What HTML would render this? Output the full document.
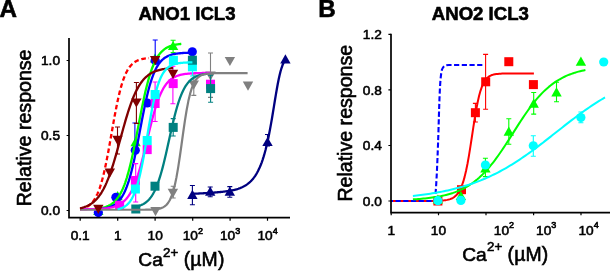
<!DOCTYPE html>
<html><head><meta charset="utf-8"><style>
html,body{margin:0;padding:0;background:#fff;}
body{width:610px;height:271px;overflow:hidden;font-family:"Liberation Sans",sans-serif;}
svg{display:block;will-change:transform;}
</style></head><body>
<svg width="610" height="271" viewBox="0 0 610 271">
<rect width="610" height="271" fill="#fff"/>
<path d="M80.00,209.30 L80.70,209.15 L81.39,208.99 L82.09,208.80 L82.79,208.60 L83.48,208.37 L84.18,208.12 L84.88,207.84 L85.58,207.54 L86.27,207.20 L86.97,206.82 L87.67,206.41 L88.36,205.96 L89.06,205.46 L89.76,204.90 L90.45,204.29 L91.15,203.63 L91.85,202.89 L92.55,202.08 L93.24,201.20 L93.94,200.22 L94.64,199.16 L95.33,198.00 L96.03,196.74 L96.73,195.36 L97.42,193.86 L98.12,192.24 L98.82,190.48 L99.52,188.58 L100.21,186.54 L100.91,184.34 L101.61,181.99 L102.30,179.49 L103.00,176.82 L103.70,173.99 L104.39,171.01 L105.09,167.87 L105.79,164.59 L106.48,161.16 L107.18,157.61 L107.88,153.95 L108.58,150.18 L109.27,146.33 L109.97,142.41 L110.67,138.45 L111.36,134.47 L112.06,130.49 L112.76,126.52 L113.45,122.60 L114.15,118.73 L114.85,114.95 L115.55,111.26 L116.24,107.69 L116.94,104.24 L117.64,100.93 L118.33,97.76 L119.03,94.75 L119.73,91.89 L120.42,89.20 L121.12,86.66 L121.82,84.28 L122.52,82.06 L123.21,79.98 L123.91,78.06 L124.61,76.28 L125.30,74.63 L126.00,73.11 L126.70,71.71 L127.39,70.42 L128.09,69.24 L128.79,68.16 L129.48,67.17 L130.18,66.27 L130.88,65.45 L131.58,64.70 L132.27,64.02 L132.97,63.40 L133.67,62.84 L134.36,62.33 L135.06,61.86 L135.76,61.44 L136.45,61.06 L137.15,60.72 L137.85,60.41 L138.55,60.12 L139.24,59.87 L139.94,59.64 L140.64,59.43 L141.33,59.24 L142.03,59.07 L142.73,58.92 L143.42,58.78 L144.12,58.65 L144.82,58.54 L145.52,58.44 L146.21,58.35 L146.91,58.26 L147.61,58.19 L148.30,58.12 L149.00,58.06" stroke="#ff0000" stroke-width="2.3" fill="none" stroke-linejoin="round" stroke-dasharray="4.6,2.8"/>
<path d="M173.10,40.30 V52.60 M170.60,40.30 H175.60 M170.60,52.60 H175.60" stroke="#00ff00" stroke-width="1.1" fill="none"/>
<polygon points="93.10,215.10 103.50,215.10 98.30,205.90" fill="#00ff00"/>
<polygon points="112.40,200.20 122.80,200.20 117.60,191.00" fill="#00ff00"/>
<polygon points="130.40,146.20 140.80,146.20 135.60,137.00" fill="#00ff00"/>
<polygon points="149.80,62.60 160.20,62.60 155.00,53.40" fill="#00ff00"/>
<polygon points="167.90,50.10 178.30,50.10 173.10,40.90" fill="#00ff00"/>
<path d="M134.90,123.00 V150.00 M132.40,123.00 H137.40 M132.40,150.00 H137.40" stroke="#0000ff" stroke-width="1.1" fill="none"/>
<path d="M155.20,40.00 V60.00 M152.70,40.00 H157.70 M152.70,60.00 H157.70" stroke="#0000ff" stroke-width="1.1" fill="none"/>
<circle cx="98.30" cy="212.60" r="4.6" fill="#0000ff"/>
<circle cx="115.90" cy="197.30" r="4.6" fill="#0000ff"/>
<circle cx="135.30" cy="150.20" r="4.6" fill="#0000ff"/>
<circle cx="147.30" cy="103.00" r="4.6" fill="#0000ff"/>
<circle cx="155.20" cy="60.50" r="4.6" fill="#0000ff"/>
<circle cx="192.30" cy="51.80" r="4.6" fill="#0000ff"/>
<path d="M98.30,208.52 L99.14,208.40 L99.98,208.26 L100.82,208.11 L101.65,207.95 L102.49,207.76 L103.33,207.56 L104.17,207.33 L105.01,207.09 L105.85,206.81 L106.68,206.50 L107.52,206.17 L108.36,205.79 L109.20,205.38 L110.04,204.92 L110.88,204.42 L111.71,203.86 L112.55,203.25 L113.39,202.57 L114.23,201.83 L115.07,201.01 L115.91,200.12 L116.74,199.13 L117.58,198.05 L118.42,196.87 L119.26,195.58 L120.10,194.17 L120.94,192.63 L121.77,190.96 L122.61,189.15 L123.45,187.19 L124.29,185.08 L125.13,182.80 L125.97,180.35 L126.81,177.74 L127.64,174.94 L128.48,171.98 L129.32,168.83 L130.16,165.52 L131.00,162.03 L131.84,158.39 L132.67,154.59 L133.51,150.66 L134.35,146.61 L135.19,142.45 L136.03,138.21 L136.87,133.90 L137.70,129.55 L138.54,125.19 L139.38,120.83 L140.22,116.50 L141.06,112.23 L141.90,108.03 L142.73,103.93 L143.57,99.94 L144.41,96.08 L145.25,92.37 L146.09,88.81 L146.93,85.42 L147.76,82.19 L148.60,79.14 L149.44,76.27 L150.28,73.58 L151.12,71.05 L151.96,68.70 L152.79,66.51 L153.63,64.48 L154.47,62.61 L155.31,60.87 L156.15,59.28 L156.99,57.81 L157.83,56.47 L158.66,55.24 L159.50,54.11 L160.34,53.08 L161.18,52.15 L162.02,51.29 L162.86,50.52 L163.69,49.81 L164.53,49.17 L165.37,48.59 L166.21,48.07 L167.05,47.59 L167.89,47.16 L168.72,46.76 L169.56,46.41 L170.40,46.09 L171.24,45.80 L172.08,45.54 L172.92,45.30 L173.75,45.09 L174.59,44.90 L175.43,44.73 L176.27,44.57 L177.11,44.43 L177.95,44.30 L178.78,44.19 L179.62,44.08 L180.46,43.99 L181.30,43.91" stroke="#00ff00" stroke-width="2.3" fill="none" stroke-linejoin="round"/>
<path d="M98.30,209.20 L99.25,209.12 L100.20,209.03 L101.15,208.93 L102.10,208.81 L103.05,208.68 L104.00,208.53 L104.95,208.36 L105.90,208.17 L106.85,207.95 L107.81,207.71 L108.76,207.43 L109.71,207.11 L110.66,206.76 L111.61,206.35 L112.56,205.90 L113.51,205.38 L114.46,204.80 L115.41,204.14 L116.36,203.41 L117.31,202.57 L118.26,201.64 L119.21,200.60 L120.16,199.42 L121.11,198.12 L122.06,196.66 L123.01,195.03 L123.96,193.23 L124.91,191.24 L125.86,189.04 L126.82,186.63 L127.77,183.98 L128.72,181.10 L129.67,177.98 L130.62,174.61 L131.57,170.99 L132.52,167.13 L133.47,163.04 L134.42,158.73 L135.37,154.22 L136.32,149.54 L137.27,144.72 L138.22,139.79 L139.17,134.79 L140.12,129.76 L141.07,124.75 L142.02,119.78 L142.97,114.91 L143.92,110.16 L144.87,105.57 L145.83,101.17 L146.78,96.98 L147.73,93.02 L148.68,89.29 L149.63,85.81 L150.58,82.57 L151.53,79.59 L152.48,76.84 L153.43,74.32 L154.38,72.03 L155.33,69.95 L156.28,68.06 L157.23,66.36 L158.18,64.83 L159.13,63.46 L160.08,62.23 L161.03,61.13 L161.98,60.15 L162.93,59.27 L163.88,58.49 L164.84,57.80 L165.79,57.19 L166.74,56.64 L167.69,56.16 L168.64,55.74 L169.59,55.36 L170.54,55.03 L171.49,54.73 L172.44,54.47 L173.39,54.24 L174.34,54.04 L175.29,53.86 L176.24,53.70 L177.19,53.56 L178.14,53.44 L179.09,53.33 L180.04,53.24 L180.99,53.16 L181.94,53.08 L182.89,53.02 L183.85,52.96 L184.80,52.91 L185.75,52.87 L186.70,52.83 L187.65,52.79 L188.60,52.76 L189.55,52.74 L190.50,52.71 L191.45,52.69 L192.40,52.67" stroke="#0000ff" stroke-width="2.3" fill="none" stroke-linejoin="round"/>
<path d="M135.70,163.60 V202.00 M133.20,163.60 H138.20 M133.20,202.00 H138.20" stroke="#ff00ff" stroke-width="1.1" fill="none"/>
<path d="M155.10,82.00 V121.50 M152.60,82.00 H157.60 M152.60,121.50 H157.60" stroke="#ff00ff" stroke-width="1.1" fill="none"/>
<path d="M172.90,66.30 V103.80 M170.40,66.30 H175.40 M170.40,103.80 H175.40" stroke="#ff00ff" stroke-width="1.1" fill="none"/>
<rect x="115.10" y="200.80" width="9" height="9" fill="#ff00ff"/>
<rect x="130.90" y="176.00" width="9" height="9" fill="#ff00ff"/>
<rect x="142.70" y="145.10" width="9" height="9" fill="#ff00ff"/>
<rect x="150.60" y="99.00" width="9" height="9" fill="#ff00ff"/>
<rect x="168.70" y="79.10" width="9" height="9" fill="#ff00ff"/>
<rect x="206.00" y="79.70" width="9" height="9" fill="#ff00ff"/>
<path d="M173.20,186.20 V198.00 M170.70,186.20 H175.70 M170.70,198.00 H175.70" stroke="#808080" stroke-width="1.1" fill="none"/>
<path d="M193.80,75.00 V95.40 M191.30,75.00 H196.30 M191.30,95.40 H196.30" stroke="#808080" stroke-width="1.1" fill="none"/>
<path d="M210.50,53.00 V97.40 M208.00,53.00 H213.00 M208.00,97.40 H213.00" stroke="#808080" stroke-width="1.1" fill="none"/>
<polygon points="150.30,207.10 160.70,207.10 155.50,216.30" fill="#808080"/>
<polygon points="167.70,188.80 178.10,188.80 172.90,198.00" fill="#808080"/>
<polygon points="188.60,80.40 199.00,80.40 193.80,89.60" fill="#808080"/>
<polygon points="205.30,71.40 215.70,71.40 210.50,80.60" fill="#808080"/>
<polygon points="224.70,56.90 235.10,56.90 229.90,66.10" fill="#808080"/>
<polygon points="242.80,81.60 253.20,81.60 248.00,90.80" fill="#808080"/>
<path d="M80.00,209.30 L81.32,209.29 L82.64,209.28 L83.95,209.27 L85.27,209.25 L86.59,209.24 L87.91,209.22 L89.23,209.20 L90.55,209.17 L91.86,209.15 L93.18,209.11 L94.50,209.07 L95.82,209.03 L97.14,208.98 L98.45,208.92 L99.77,208.84 L101.09,208.76 L102.41,208.66 L103.73,208.55 L105.05,208.42 L106.36,208.27 L107.68,208.09 L109.00,207.88 L110.32,207.64 L111.64,207.35 L112.95,207.03 L114.27,206.65 L115.59,206.21 L116.91,205.69 L118.23,205.10 L119.55,204.41 L120.86,203.62 L122.18,202.70 L123.50,201.64 L124.82,200.43 L126.14,199.03 L127.45,197.44 L128.77,195.62 L130.09,193.56 L131.41,191.23 L132.73,188.60 L134.05,185.67 L135.36,182.40 L136.68,178.80 L138.00,174.86 L139.32,170.59 L140.64,166.00 L141.95,161.12 L143.27,155.99 L144.59,150.66 L145.91,145.20 L147.23,139.67 L148.55,134.15 L149.86,128.70 L151.18,123.40 L152.50,118.31 L153.82,113.48 L155.14,108.96 L156.45,104.76 L157.77,100.91 L159.09,97.42 L160.41,94.27 L161.73,91.45 L163.05,88.95 L164.36,86.75 L165.68,84.82 L167.00,83.13 L168.32,81.66 L169.64,80.40 L170.95,79.30 L172.27,78.36 L173.59,77.55 L174.91,76.86 L176.23,76.26 L177.55,75.76 L178.86,75.32 L180.18,74.96 L181.50,74.64 L182.82,74.38 L184.14,74.15 L185.45,73.96 L186.77,73.79 L188.09,73.66 L189.41,73.54 L190.73,73.44 L192.05,73.35 L193.36,73.28 L194.68,73.22 L196.00,73.17 L197.32,73.13 L198.64,73.09 L199.95,73.06 L201.27,73.03 L202.59,73.01 L203.91,72.99 L205.23,72.97 L206.55,72.96 L207.86,72.95 L209.18,72.94 L210.50,72.93" stroke="#ff00ff" stroke-width="2.3" fill="none" stroke-linejoin="round"/>
<path d="M192.50,66.00 V76.00 M190.00,66.00 H195.00 M190.00,76.00 H195.00" stroke="#00ffff" stroke-width="1.1" fill="none"/>
<rect x="130.90" y="184.50" width="9" height="9" fill="#00ffff"/>
<rect x="142.70" y="136.00" width="9" height="9" fill="#00ffff"/>
<rect x="150.60" y="90.00" width="9" height="9" fill="#00ffff"/>
<rect x="168.90" y="55.80" width="9" height="9" fill="#00ffff"/>
<rect x="187.90" y="62.30" width="9" height="9" fill="#00ffff"/>
<path d="M173.20,118.60 V136.00 M170.70,118.60 H175.70 M170.70,136.00 H175.70" stroke="#008080" stroke-width="1.1" fill="none"/>
<path d="M210.60,75.30 V102.30 M208.10,75.30 H213.10 M208.10,102.30 H213.10" stroke="#008080" stroke-width="1.1" fill="none"/>
<rect x="131.30" y="204.50" width="9" height="9" fill="#008080"/>
<rect x="150.50" y="181.70" width="9" height="9" fill="#008080"/>
<rect x="168.70" y="122.90" width="9" height="9" fill="#008080"/>
<rect x="187.90" y="55.70" width="9" height="9" fill="#008080"/>
<rect x="206.10" y="84.10" width="9" height="9" fill="#008080"/>
<path d="M135.60,206.75 L136.32,206.59 L137.04,206.42 L137.76,206.23 L138.48,206.03 L139.21,205.80 L139.93,205.56 L140.65,205.28 L141.37,204.99 L142.09,204.66 L142.81,204.30 L143.53,203.91 L144.25,203.48 L144.98,203.02 L145.70,202.50 L146.42,201.94 L147.14,201.33 L147.86,200.67 L148.58,199.94 L149.30,199.15 L150.02,198.30 L150.75,197.36 L151.47,196.35 L152.19,195.26 L152.91,194.08 L153.63,192.80 L154.35,191.43 L155.07,189.95 L155.79,188.37 L156.52,186.67 L157.24,184.86 L157.96,182.93 L158.68,180.88 L159.40,178.71 L160.12,176.42 L160.84,174.00 L161.56,171.47 L162.28,168.83 L163.01,166.08 L163.73,163.23 L164.45,160.28 L165.17,157.25 L165.89,154.15 L166.61,150.99 L167.33,147.78 L168.05,144.53 L168.78,141.27 L169.50,138.01 L170.22,134.76 L170.94,131.54 L171.66,128.35 L172.38,125.23 L173.10,122.17 L173.82,119.19 L174.55,116.30 L175.27,113.51 L175.99,110.82 L176.71,108.25 L177.43,105.79 L178.15,103.46 L178.87,101.24 L179.59,99.14 L180.32,97.17 L181.04,95.31 L181.76,93.57 L182.48,91.95 L183.20,90.43 L183.92,89.01 L184.64,87.70 L185.36,86.49 L186.08,85.36 L186.81,84.32 L187.53,83.36 L188.25,82.47 L188.97,81.66 L189.69,80.91 L190.41,80.22 L191.13,79.59 L191.85,79.01 L192.58,78.48 L193.30,78.00 L194.02,77.55 L194.74,77.15 L195.46,76.78 L196.18,76.44 L196.90,76.13 L197.62,75.85 L198.35,75.60 L199.07,75.36 L199.79,75.15 L200.51,74.96 L201.23,74.78 L201.95,74.62 L202.67,74.47 L203.39,74.34 L204.12,74.22 L204.84,74.11 L205.56,74.01 L206.28,73.92 L207.00,73.84" stroke="#008080" stroke-width="2.3" fill="none" stroke-linejoin="round"/>
<path d="M80.00,209.77 L81.69,209.77 L83.39,209.77 L85.08,209.77 L86.77,209.77 L88.46,209.77 L90.16,209.77 L91.85,209.77 L93.54,209.77 L95.24,209.77 L96.93,209.77 L98.62,209.77 L100.32,209.77 L102.01,209.77 L103.70,209.77 L105.39,209.77 L107.09,209.77 L108.78,209.77 L110.47,209.77 L112.17,209.77 L113.86,209.77 L115.55,209.77 L117.24,209.77 L118.94,209.77 L120.63,209.77 L122.32,209.77 L124.02,209.77 L125.71,209.77 L127.40,209.77 L129.09,209.77 L130.79,209.77 L132.48,209.77 L134.17,209.77 L135.87,209.77 L137.56,209.76 L139.25,209.76 L140.95,209.75 L142.64,209.74 L144.33,209.73 L146.02,209.71 L147.72,209.68 L149.41,209.64 L151.10,209.58 L152.80,209.49 L154.49,209.37 L156.18,209.20 L157.87,208.95 L159.57,208.60 L161.26,208.10 L162.95,207.39 L164.65,206.39 L166.34,204.98 L168.03,203.01 L169.73,200.29 L171.42,196.58 L173.11,191.64 L174.80,185.22 L176.50,177.14 L178.19,167.41 L179.88,156.27 L181.58,144.23 L183.27,132.02 L184.96,120.39 L186.65,109.96 L188.35,101.11 L190.04,93.94 L191.73,88.35 L193.43,84.11 L195.12,80.97 L196.81,78.68 L198.51,77.03 L200.20,75.86 L201.89,75.03 L203.58,74.44 L205.28,74.02 L206.97,73.73 L208.66,73.53 L210.36,73.39 L212.05,73.29 L213.74,73.22 L215.43,73.17 L217.13,73.14 L218.82,73.11 L220.51,73.10 L222.21,73.09 L223.90,73.08 L225.59,73.07 L227.28,73.07 L228.98,73.06 L230.67,73.06 L232.36,73.06 L234.06,73.06 L235.75,73.06 L237.44,73.06 L239.14,73.06 L240.83,73.06 L242.52,73.06 L244.21,73.06 L245.91,73.06 L247.60,73.06" stroke="#808080" stroke-width="2.2" fill="none" stroke-linejoin="round"/>
<path d="M80.00,208.29 L80.94,208.07 L81.88,207.83 L82.82,207.56 L83.77,207.27 L84.71,206.94 L85.65,206.59 L86.59,206.20 L87.53,205.78 L88.47,205.32 L89.41,204.81 L90.36,204.26 L91.30,203.65 L92.24,202.99 L93.18,202.27 L94.12,201.49 L95.06,200.63 L96.00,199.71 L96.95,198.70 L97.89,197.61 L98.83,196.43 L99.77,195.15 L100.71,193.77 L101.65,192.29 L102.59,190.69 L103.54,188.98 L104.48,187.15 L105.42,185.20 L106.36,183.12 L107.30,180.91 L108.24,178.58 L109.18,176.11 L110.13,173.52 L111.07,170.81 L112.01,167.98 L112.95,165.03 L113.89,161.98 L114.83,158.83 L115.77,155.59 L116.72,152.29 L117.66,148.92 L118.60,145.50 L119.54,142.06 L120.48,138.60 L121.42,135.15 L122.36,131.71 L123.31,128.30 L124.25,124.95 L125.19,121.66 L126.13,118.44 L127.07,115.31 L128.01,112.28 L128.95,109.36 L129.89,106.55 L130.84,103.86 L131.78,101.30 L132.72,98.86 L133.66,96.56 L134.60,94.38 L135.54,92.33 L136.48,90.40 L137.43,88.60 L138.37,86.91 L139.31,85.34 L140.25,83.88 L141.19,82.52 L142.13,81.27 L143.07,80.11 L144.02,79.03 L144.96,78.04 L145.90,77.13 L146.84,76.29 L147.78,75.52 L148.72,74.82 L149.66,74.17 L150.61,73.58 L151.55,73.03 L152.49,72.54 L153.43,72.08 L154.37,71.67 L155.31,71.29 L156.25,70.94 L157.20,70.63 L158.14,70.34 L159.08,70.08 L160.02,69.84 L160.96,69.62 L161.90,69.42 L162.84,69.24 L163.79,69.08 L164.73,68.93 L165.67,68.79 L166.61,68.67 L167.55,68.56 L168.49,68.46 L169.43,68.36 L170.38,68.28 L171.32,68.20 L172.26,68.13 L173.20,68.07" stroke="#800000" stroke-width="2.3" fill="none" stroke-linejoin="round"/>
<path d="M117.60,209.23 L118.36,209.07 L119.11,208.88 L119.87,208.66 L120.62,208.42 L121.38,208.16 L122.13,207.85 L122.89,207.51 L123.64,207.13 L124.40,206.71 L125.16,206.23 L125.91,205.69 L126.67,205.09 L127.42,204.43 L128.18,203.68 L128.93,202.85 L129.69,201.92 L130.44,200.89 L131.20,199.74 L131.96,198.47 L132.71,197.07 L133.47,195.52 L134.22,193.82 L134.98,191.95 L135.73,189.91 L136.49,187.68 L137.24,185.25 L138.00,182.63 L138.76,179.81 L139.51,176.78 L140.27,173.54 L141.02,170.10 L141.78,166.48 L142.53,162.67 L143.29,158.69 L144.04,154.57 L144.80,150.33 L145.56,145.99 L146.31,141.58 L147.07,137.14 L147.82,132.69 L148.58,128.26 L149.33,123.90 L150.09,119.62 L150.84,115.46 L151.60,111.43 L152.36,107.57 L153.11,103.88 L153.87,100.38 L154.62,97.08 L155.38,93.98 L156.13,91.09 L156.89,88.40 L157.64,85.91 L158.40,83.62 L159.16,81.51 L159.91,79.59 L160.67,77.83 L161.42,76.23 L162.18,74.79 L162.93,73.47 L163.69,72.29 L164.44,71.22 L165.20,70.26 L165.96,69.40 L166.71,68.62 L167.47,67.93 L168.22,67.31 L168.98,66.75 L169.73,66.26 L170.49,65.81 L171.24,65.42 L172.00,65.07 L172.76,64.75 L173.51,64.47 L174.27,64.22 L175.02,64.00 L175.78,63.81 L176.53,63.63 L177.29,63.47 L178.04,63.34 L178.80,63.21 L179.56,63.10 L180.31,63.01 L181.07,62.92 L181.82,62.85 L182.58,62.78 L183.33,62.72 L184.09,62.66 L184.84,62.62 L185.60,62.58 L186.36,62.54 L187.11,62.50 L187.87,62.48 L188.62,62.45 L189.38,62.43 L190.13,62.41 L190.89,62.39 L191.64,62.37 L192.40,62.36" stroke="#00ffff" stroke-width="2.3" fill="none" stroke-linejoin="round"/>
<path d="M136.40,82.50 V123.40 M133.90,82.50 H138.90 M133.90,123.40 H138.90" stroke="#800000" stroke-width="1.1" fill="none"/>
<path d="M117.50,127.00 V154.00 M115.00,127.00 H120.00 M115.00,154.00 H120.00" stroke="#800000" stroke-width="1.1" fill="none"/>
<polygon points="93.10,204.70 103.50,204.70 98.30,213.90" fill="#800000"/>
<polygon points="104.60,168.60 115.00,168.60 109.80,177.80" fill="#800000"/>
<polygon points="112.30,135.80 122.70,135.80 117.50,145.00" fill="#800000"/>
<polygon points="131.20,98.40 141.60,98.40 136.40,107.60" fill="#800000"/>
<polygon points="149.90,55.90 160.30,55.90 155.10,65.10" fill="#800000"/>
<polygon points="167.80,69.80 178.20,69.80 173.00,79.00" fill="#800000"/>
<path d="M192.40,185.50 V204.70 M189.90,185.50 H194.90 M189.90,204.70 H194.90" stroke="#000080" stroke-width="1.1" fill="none"/>
<path d="M210.20,187.00 V196.80 M207.70,187.00 H212.70 M207.70,196.80 H212.70" stroke="#000080" stroke-width="1.1" fill="none"/>
<path d="M229.80,186.60 V197.20 M227.30,186.60 H232.30 M227.30,197.20 H232.30" stroke="#000080" stroke-width="1.1" fill="none"/>
<path d="M267.50,134.50 V146.00 M265.00,134.50 H270.00 M265.00,146.00 H270.00" stroke="#000080" stroke-width="1.1" fill="none"/>
<polygon points="187.20,198.90 197.60,198.90 192.40,189.70" fill="#000080"/>
<polygon points="205.00,195.80 215.40,195.80 210.20,186.60" fill="#000080"/>
<polygon points="224.60,195.70 235.00,195.70 229.80,186.50" fill="#000080"/>
<polygon points="262.30,146.10 272.70,146.10 267.50,136.90" fill="#000080"/>
<polygon points="280.20,63.40 290.60,63.40 285.40,54.20" fill="#000080"/>
<path d="M192.40,193.86 L193.34,193.81 L194.27,193.76 L195.21,193.71 L196.15,193.66 L197.09,193.61 L198.02,193.56 L198.96,193.51 L199.90,193.46 L200.84,193.40 L201.77,193.35 L202.71,193.30 L203.65,193.24 L204.59,193.19 L205.52,193.13 L206.46,193.07 L207.40,193.02 L208.34,192.96 L209.27,192.90 L210.21,192.83 L211.15,192.77 L212.08,192.70 L213.02,192.64 L213.96,192.57 L214.90,192.50 L215.83,192.42 L216.77,192.34 L217.71,192.26 L218.65,192.18 L219.58,192.09 L220.52,192.00 L221.46,191.91 L222.40,191.81 L223.33,191.70 L224.27,191.59 L225.21,191.47 L226.15,191.35 L227.08,191.22 L228.02,191.08 L228.96,190.93 L229.89,190.77 L230.83,190.61 L231.77,190.42 L232.71,190.23 L233.64,190.02 L234.58,189.80 L235.52,189.56 L236.46,189.30 L237.39,189.03 L238.33,188.73 L239.27,188.40 L240.21,188.05 L241.14,187.67 L242.08,187.26 L243.02,186.82 L243.96,186.33 L244.89,185.81 L245.83,185.24 L246.77,184.62 L247.71,183.94 L248.64,183.20 L249.58,182.40 L250.52,181.53 L251.45,180.58 L252.39,179.55 L253.33,178.42 L254.27,177.18 L255.20,175.84 L256.14,174.37 L257.08,172.77 L258.02,171.03 L258.95,169.12 L259.89,167.04 L260.83,164.78 L261.77,162.31 L262.70,159.62 L263.64,156.69 L264.58,153.50 L265.52,150.05 L266.45,146.31 L267.39,142.28 L268.33,137.94 L269.26,133.29 L270.20,128.35 L271.14,123.14 L272.08,117.69 L273.01,112.06 L273.95,106.32 L274.89,100.56 L275.83,94.90 L276.76,89.44 L277.70,84.29 L278.64,79.55 L279.58,75.28 L280.51,71.53 L281.45,68.29 L282.39,65.56 L283.33,63.29 L284.26,61.42 L285.20,59.91" stroke="#000080" stroke-width="2.3" fill="none" stroke-linejoin="round"/>
<path d="M69,38 V217.7 H290" stroke="#000" stroke-width="1.7" fill="none"/>
<path d="M66.6,60.5 H69 M66.6,135.5 H69 M66.6,210.5 H69 M80.2,217.7 V220.8 M117.7,217.7 V220.8 M155.1,217.7 V220.8 M192.7,217.7 V220.8 M230.1,217.7 V220.8 M267.5,217.7 V220.8" stroke="#000" stroke-width="1.2" fill="none"/>
<path d="M475.40,103.40 V122.00 M472.90,103.40 H477.90 M472.90,122.00 H477.90" stroke="#ff0000" stroke-width="1.1" fill="none"/>
<path d="M485.60,54.40 V109.30 M483.10,54.40 H488.10 M483.10,109.30 H488.10" stroke="#ff0000" stroke-width="1.1" fill="none"/>
<path d="M391.00,201.00 L392.44,201.00 L393.89,201.00 L395.33,201.00 L396.77,201.00 L398.22,201.00 L399.66,201.00 L401.10,201.00 L402.55,201.00 L403.99,201.00 L405.43,201.00 L406.88,201.00 L408.32,201.00 L409.76,201.00 L411.21,201.00 L412.65,201.00 L414.09,201.00 L415.54,201.00 L416.98,201.00 L418.43,200.99 L419.87,200.99 L421.31,200.99 L422.76,200.99 L424.20,200.98 L425.64,200.98 L427.09,200.97 L428.53,200.96 L429.97,200.95 L431.42,200.94 L432.86,200.92 L434.30,200.90 L435.75,200.87 L437.19,200.83 L438.63,200.77 L440.08,200.70 L441.52,200.61 L442.96,200.49 L444.41,200.34 L445.85,200.14 L447.29,199.88 L448.74,199.54 L450.18,199.10 L451.62,198.52 L453.07,197.78 L454.51,196.82 L455.95,195.57 L457.40,193.97 L458.84,191.92 L460.28,189.31 L461.73,186.02 L463.17,181.91 L464.62,176.88 L466.06,170.82 L467.50,163.70 L468.95,155.59 L470.39,146.66 L471.83,137.23 L473.28,127.70 L474.72,118.49 L476.16,109.99 L477.61,102.48 L479.05,96.09 L480.49,90.84 L481.94,86.63 L483.38,83.35 L484.82,80.82 L486.27,78.90 L487.71,77.47 L489.15,76.40 L490.60,75.61 L492.04,75.03 L493.48,74.60 L494.93,74.29 L496.37,74.06 L497.81,73.89 L499.26,73.77 L500.70,73.68 L502.14,73.62 L503.59,73.57 L505.03,73.54 L506.47,73.51 L507.92,73.49 L509.36,73.48 L510.81,73.47 L512.25,73.46 L513.69,73.46 L515.14,73.46 L516.58,73.45 L518.02,73.45 L519.47,73.45 L520.91,73.45 L522.35,73.45 L523.80,73.45 L525.24,73.45 L526.68,73.45 L528.13,73.45 L529.57,73.45 L531.01,73.45 L532.46,73.45 L533.90,73.45" stroke="#ff0000" stroke-width="2.0" fill="none" stroke-linejoin="round"/>
<rect x="433.40" y="196.50" width="9" height="9" fill="#ff0000"/>
<rect x="457.00" y="185.20" width="9" height="9" fill="#ff0000"/>
<rect x="470.90" y="108.20" width="9" height="9" fill="#ff0000"/>
<rect x="481.20" y="77.30" width="9" height="9" fill="#ff0000"/>
<rect x="504.30" y="57.20" width="9" height="9" fill="#ff0000"/>
<rect x="528.90" y="80.10" width="9" height="9" fill="#ff0000"/>
<path d="M391,201 L434.5,201 C435.9,196 437.2,170 438.5,130 C439.5,95 440,77 442,69.5 C443.5,65.5 446,65 449,65 L484.2,65" stroke="#0000ff" stroke-width="2.1" fill="none" stroke-linejoin="round" stroke-dasharray="5.2,2.5" stroke-dashoffset="3.15"/>
<path d="M485.40,158.30 V176.60 M482.90,158.30 H487.90 M482.90,176.60 H487.90" stroke="#00ff00" stroke-width="1.1" fill="none"/>
<path d="M508.80,118.80 V144.30 M506.30,118.80 H511.30 M506.30,144.30 H511.30" stroke="#00ff00" stroke-width="1.1" fill="none"/>
<path d="M533.70,92.50 V114.10 M531.20,92.50 H536.20 M531.20,114.10 H536.20" stroke="#00ff00" stroke-width="1.1" fill="none"/>
<path d="M556.50,82.30 V101.70 M554.00,82.30 H559.00 M554.00,101.70 H559.00" stroke="#00ff00" stroke-width="1.1" fill="none"/>
<path d="M412.90,199.34 L414.64,199.24 L416.38,199.13 L418.13,199.01 L419.87,198.88 L421.61,198.73 L423.35,198.58 L425.10,198.41 L426.84,198.23 L428.58,198.04 L430.32,197.83 L432.07,197.60 L433.81,197.35 L435.55,197.08 L437.29,196.80 L439.04,196.49 L440.78,196.15 L442.52,195.79 L444.26,195.39 L446.01,194.97 L447.75,194.52 L449.49,194.03 L451.23,193.50 L452.98,192.93 L454.72,192.32 L456.46,191.67 L458.20,190.96 L459.95,190.21 L461.69,189.40 L463.43,188.53 L465.17,187.61 L466.92,186.62 L468.66,185.56 L470.40,184.44 L472.14,183.24 L473.88,181.97 L475.63,180.62 L477.37,179.20 L479.11,177.69 L480.85,176.09 L482.60,174.41 L484.34,172.65 L486.08,170.80 L487.82,168.86 L489.57,166.83 L491.31,164.73 L493.05,162.54 L494.79,160.27 L496.54,157.92 L498.28,155.51 L500.02,153.02 L501.76,150.48 L503.51,147.88 L505.25,145.24 L506.99,142.55 L508.73,139.84 L510.48,137.10 L512.22,134.35 L513.96,131.60 L515.70,128.85 L517.45,126.12 L519.19,123.40 L520.93,120.72 L522.67,118.08 L524.42,115.49 L526.16,112.95 L527.90,110.48 L529.64,108.07 L531.38,105.73 L533.13,103.47 L534.87,101.29 L536.61,99.19 L538.35,97.17 L540.10,95.24 L541.84,93.40 L543.58,91.64 L545.32,89.97 L547.07,88.39 L548.81,86.89 L550.55,85.46 L552.29,84.12 L554.04,82.86 L555.78,81.67 L557.52,80.55 L559.26,79.51 L561.01,78.52 L562.75,77.60 L564.49,76.74 L566.23,75.94 L567.98,75.19 L569.72,74.49 L571.46,73.84 L573.20,73.24 L574.95,72.67 L576.69,72.15 L578.43,71.66 L580.17,71.21 L581.92,70.79 L583.66,70.40 L585.40,70.04" stroke="#00ff00" stroke-width="2.0" fill="none" stroke-linejoin="round"/>
<polygon points="432.70,203.60 443.10,203.60 437.90,194.40" fill="#00ff00"/>
<polygon points="455.70,200.10 466.10,200.10 460.90,190.90" fill="#00ff00"/>
<polygon points="480.20,172.60 490.60,172.60 485.40,163.40" fill="#00ff00"/>
<polygon points="503.60,135.80 514.00,135.80 508.80,126.60" fill="#00ff00"/>
<polygon points="528.50,107.70 538.90,107.70 533.70,98.50" fill="#00ff00"/>
<polygon points="551.30,96.50 561.70,96.50 556.50,87.30" fill="#00ff00"/>
<polygon points="575.70,65.80 586.10,65.80 580.90,56.60" fill="#00ff00"/>
<path d="M533.30,135.80 V156.20 M530.80,135.80 H535.80 M530.80,156.20 H535.80" stroke="#00ffff" stroke-width="1.1" fill="none"/>
<path d="M580.90,112.00 V122.80 M578.40,112.00 H583.40 M578.40,122.80 H583.40" stroke="#00ffff" stroke-width="1.1" fill="none"/>
<path d="M412.90,195.93 L414.84,195.72 L416.78,195.50 L418.72,195.27 L420.66,195.03 L422.60,194.77 L424.54,194.51 L426.48,194.24 L428.42,193.96 L430.36,193.66 L432.30,193.36 L434.24,193.04 L436.18,192.70 L438.13,192.36 L440.07,192.00 L442.01,191.62 L443.95,191.23 L445.89,190.83 L447.83,190.41 L449.77,189.97 L451.71,189.52 L453.65,189.05 L455.59,188.56 L457.53,188.05 L459.47,187.52 L461.41,186.98 L463.35,186.41 L465.29,185.82 L467.23,185.22 L469.17,184.59 L471.11,183.94 L473.05,183.26 L474.99,182.57 L476.93,181.85 L478.87,181.10 L480.81,180.34 L482.75,179.54 L484.69,178.73 L486.64,177.88 L488.58,177.02 L490.52,176.12 L492.46,175.20 L494.40,174.26 L496.34,173.28 L498.28,172.28 L500.22,171.26 L502.16,170.21 L504.10,169.13 L506.04,168.02 L507.98,166.89 L509.92,165.73 L511.86,164.55 L513.80,163.34 L515.74,162.11 L517.68,160.85 L519.62,159.57 L521.56,158.27 L523.50,156.94 L525.44,155.60 L527.38,154.23 L529.32,152.84 L531.26,151.44 L533.21,150.01 L535.15,148.57 L537.09,147.12 L539.03,145.65 L540.97,144.16 L542.91,142.67 L544.85,141.16 L546.79,139.65 L548.73,138.13 L550.67,136.61 L552.61,135.08 L554.55,133.55 L556.49,132.01 L558.43,130.48 L560.37,128.95 L562.31,127.43 L564.25,125.90 L566.19,124.39 L568.13,122.88 L570.07,121.39 L572.01,119.90 L573.95,118.43 L575.89,116.97 L577.83,115.52 L579.77,114.09 L581.72,112.68 L583.66,111.29 L585.60,109.92 L587.54,108.56 L589.48,107.23 L591.42,105.92 L593.36,104.63 L595.30,103.37 L597.24,102.13 L599.18,100.92 L601.12,99.73 L603.06,98.56 L605.00,97.42" stroke="#00ffff" stroke-width="2.0" fill="none" stroke-linejoin="round"/>
<circle cx="437.90" cy="200.70" r="4.6" fill="#00ffff"/>
<circle cx="460.90" cy="200.40" r="4.6" fill="#00ffff"/>
<circle cx="485.40" cy="165.00" r="4.6" fill="#00ffff"/>
<circle cx="533.30" cy="145.80" r="4.6" fill="#00ffff"/>
<circle cx="580.90" cy="117.50" r="4.6" fill="#00ffff"/>
<circle cx="603.70" cy="62.00" r="4.6" fill="#00ffff"/>
<path d="M391,33.8 V212.7 H610" stroke="#000" stroke-width="1.7" fill="none"/>
<path d="M388.4,34.3 H391 M388.4,89.9 H391 M388.4,145.5 H391 M388.4,201 H391 M391.2,212.7 V215.3 M438.5,212.7 V215.3 M486,212.7 V215.3 M533.6,212.7 V215.3 M581,212.7 V215.3" stroke="#000" stroke-width="1.2" fill="none"/>
<text x="-0.4" y="16.7" font-family="Liberation Sans, sans-serif" stroke="#000" stroke-width="0.6" font-size="24.2" font-weight="bold">A</text>
<text x="318.2" y="16.8" font-family="Liberation Sans, sans-serif" stroke="#000" stroke-width="0.6" font-size="24.2" font-weight="bold">B</text>
<text x="138.4" y="19.9" font-family="Liberation Sans, sans-serif" stroke="#000" stroke-width="0.6" font-size="18.6" font-weight="bold">ANO1 ICL3</text>
<text x="431.8" y="19.9" font-family="Liberation Sans, sans-serif" stroke="#000" stroke-width="0.6" font-size="18.6" font-weight="bold">ANO2 ICL3</text>
<text x="60" y="65.3" font-family="Liberation Sans, sans-serif" stroke="#000" stroke-width="0.6" font-size="13.7" text-anchor="end">1.0</text>
<text x="60" y="140.3" font-family="Liberation Sans, sans-serif" stroke="#000" stroke-width="0.6" font-size="13.7" text-anchor="end">0.5</text>
<text x="60" y="215.3" font-family="Liberation Sans, sans-serif" stroke="#000" stroke-width="0.6" font-size="13.7" text-anchor="end">0.0</text>
<text x="381.8" y="39.099999999999994" font-family="Liberation Sans, sans-serif" stroke="#000" stroke-width="0.6" font-size="13.7" text-anchor="end">1.2</text>
<text x="381.8" y="94.7" font-family="Liberation Sans, sans-serif" stroke="#000" stroke-width="0.6" font-size="13.7" text-anchor="end">0.8</text>
<text x="381.8" y="150.3" font-family="Liberation Sans, sans-serif" stroke="#000" stroke-width="0.6" font-size="13.7" text-anchor="end">0.4</text>
<text x="381.8" y="205.8" font-family="Liberation Sans, sans-serif" stroke="#000" stroke-width="0.6" font-size="13.7" text-anchor="end">0.0</text>
<text x="80.2" y="240.3" font-family="Liberation Sans, sans-serif" stroke="#000" stroke-width="0.6" font-size="13.7" text-anchor="middle">0.1</text>
<text x="117.7" y="240.3" font-family="Liberation Sans, sans-serif" stroke="#000" stroke-width="0.6" font-size="13.7" text-anchor="middle">1</text>
<text x="155.2" y="240.3" font-family="Liberation Sans, sans-serif" stroke="#000" stroke-width="0.6" font-size="13.7" text-anchor="middle">10</text>
<text x="192.8" y="240.3" font-family="Liberation Sans, sans-serif" stroke="#000" stroke-width="0.6" font-size="13.7" text-anchor="middle">10<tspan font-size="9" dy="-6.3">2</tspan></text>
<text x="230.1" y="240.3" font-family="Liberation Sans, sans-serif" stroke="#000" stroke-width="0.6" font-size="13.7" text-anchor="middle">10<tspan font-size="9" dy="-6.3">3</tspan></text>
<text x="267.6" y="240.3" font-family="Liberation Sans, sans-serif" stroke="#000" stroke-width="0.6" font-size="13.7" text-anchor="middle">10<tspan font-size="9" dy="-6.3">4</tspan></text>
<text x="391.4" y="234.6" font-family="Liberation Sans, sans-serif" stroke="#000" stroke-width="0.6" font-size="13.7" text-anchor="middle">1</text>
<text x="438.4" y="234.6" font-family="Liberation Sans, sans-serif" stroke="#000" stroke-width="0.6" font-size="13.7" text-anchor="middle">10</text>
<text x="503.9" y="234.6" font-family="Liberation Sans, sans-serif" stroke="#000" stroke-width="0.6" font-size="13.7" text-anchor="middle">10<tspan font-size="9" dy="-6.3">2</tspan></text>
<text x="546.2" y="234.6" font-family="Liberation Sans, sans-serif" stroke="#000" stroke-width="0.6" font-size="13.7" text-anchor="middle">10<tspan font-size="9" dy="-6.3">3</tspan></text>
<text x="588.6" y="234.6" font-family="Liberation Sans, sans-serif" stroke="#000" stroke-width="0.6" font-size="13.7" text-anchor="middle">10<tspan font-size="9" dy="-6.3">4</tspan></text>
<text x="138.3" y="266.3" font-family="Liberation Sans, sans-serif" stroke="#000" stroke-width="0.6" font-size="19.2">Ca</text>
<text x="163.10000000000002" y="256.5" font-family="Liberation Sans, sans-serif" stroke="#000" stroke-width="0.6" font-size="13.3">2+</text>
<text x="183.70000000000002" y="266.3" font-family="Liberation Sans, sans-serif" stroke="#000" stroke-width="0.6" font-size="19.4" letter-spacing="0.15">(µM)</text>
<text x="462.2" y="260.5" font-family="Liberation Sans, sans-serif" stroke="#000" stroke-width="0.6" font-size="19.2">Ca</text>
<text x="487.0" y="250.7" font-family="Liberation Sans, sans-serif" stroke="#000" stroke-width="0.6" font-size="13.3">2+</text>
<text x="507.59999999999997" y="260.5" font-family="Liberation Sans, sans-serif" stroke="#000" stroke-width="0.6" font-size="19.4" letter-spacing="0.15">(µM)</text>
<text transform="translate(30.6,127.9) rotate(-90)" font-family="Liberation Sans, sans-serif" stroke="#000" stroke-width="0.6" font-size="19.6" text-anchor="middle">Relative response</text>
<text transform="translate(351.9,123.2) rotate(-90)" font-family="Liberation Sans, sans-serif" stroke="#000" stroke-width="0.6" font-size="19.6" text-anchor="middle">Relative response</text>
</svg>
</body></html>
